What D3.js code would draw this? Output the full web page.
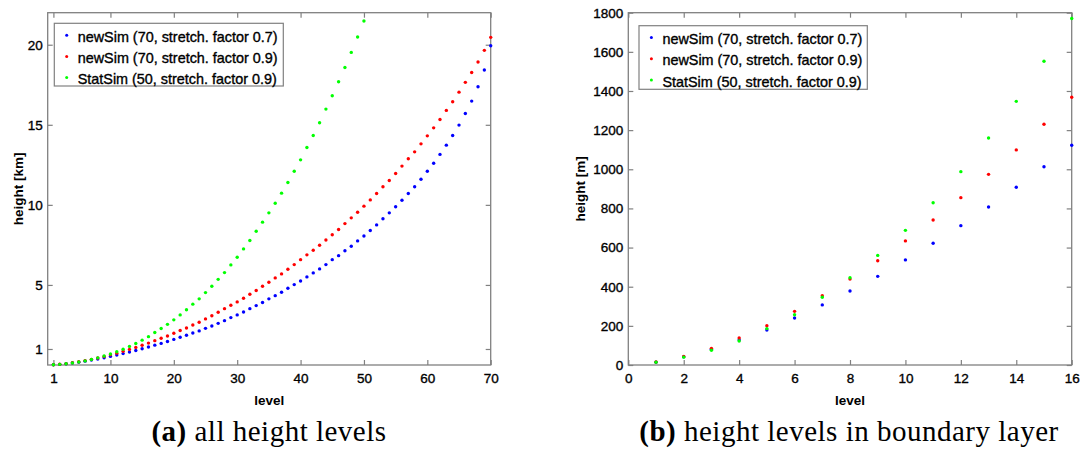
<!DOCTYPE html>
<html><head><meta charset="utf-8">
<script src="https://cdn.jsdelivr.net/npm/d3@7"></script>
<style>
body{margin:0;background:#fff;}
svg{display:block;}
</style></head>
<body>
<svg id="chart" width="1080" height="451"></svg>
<script>
// ---- data (heights in km) ----
const seriesNames = ["newSim (70, stretch. factor 0.7)", "newSim (70, stretch. factor 0.9)", "StatSim (50, stretch. factor 0.9)"];
const seriesColors = ["#0000ff", "#ff0000", "#00ff00"];
const newSim07 = [0.014,0.042,0.080,0.128,0.179,0.240,0.307,0.378,0.453,0.537,0.622,0.712,0.807,0.908,1.013,1.123,
  1.24,1.35,1.47,1.60,1.73,1.86,2.00,
  2.13,2.29,2.44,2.60,2.77,2.96,3.13,3.31,3.52,3.71,3.90,4.13,4.33,4.54,4.79,5.02,5.25,5.50,5.75,6.00,6.27,6.58,6.83,
  7.13,7.42,7.75,8.06,8.40,8.75,9.13,9.50,9.88,10.29,10.71,11.13,11.60,12.10,12.60,13.15,13.73,14.33,14.98,15.71,16.48,17.38,18.42,19.94];
const newSim09 = [0.015,0.044,0.085,0.138,0.201,0.274,0.354,0.439,0.533,0.634,0.741,0.855,0.974,1.099,1.230,1.368,
  1.52,1.67,1.81,1.98,2.15,2.31,2.50,
  2.67,2.88,3.08,3.29,3.52,3.73,3.94,4.17,4.42,4.65,4.92,5.17,5.44,5.69,5.98,6.27,6.58,6.88,7.17,7.48,7.81,8.13,8.46,
  8.83,9.19,9.54,9.92,10.31,10.71,11.13,11.52,11.96,12.42,12.88,13.31,13.81,14.31,14.81,15.33,15.90,16.44,17.04,17.65,18.27,18.92,19.65,20.46];
const statSim09 = [0.014,0.040,0.075,0.123,0.186,0.257,0.346,0.446,0.560,0.688,0.829,0.988,1.160,1.347,1.552,1.770,
  2.03,2.28,2.54,2.82,3.13,3.45,3.80,
  4.13,4.52,4.92,5.35,5.77,6.25,6.73,7.25,7.77,8.35,8.92,9.50,10.10,10.73,11.40,12.10,12.81,13.58,14.33,15.13,15.98,16.81,17.69,
  18.58,19.52,20.48,21.48];
const allSeries = [newSim07, newSim09, statSim09];

const leftXTicks = [1,10,20,30,40,50,60,70];
const leftYTicks = [1,5,10,15,20];
const rightXTicks = [0,2,4,6,8,10,12,14,16];
const rightYTicks = [0,200,400,600,800,1000,1200,1400,1600,1800];
const boundaryLevels = 16;

const captionA = ["(a)", " all height levels"];
const captionB = ["(b)", " height levels in boundary layer"];

// ---- drawing ----
const svg = d3.select("#chart");
const AX = "#808080";
const FONT = "Liberation Sans, Arial, Helvetica, sans-serif";

function heavy(sel){ return sel.attr("stroke","#000").attr("stroke-width",0.35); }

function panel(opt){
  const g = svg.append("g");
  const x = opt.x, y = opt.y;
  const [x0,x1] = x.range(), [y0,y1] = y.range();
  const mk = (axis, tr, labels) => {
    const a = g.append("g").attr("transform", tr).call(axis);
    a.select(".domain").remove();
    a.selectAll(".tick line").attr("stroke", AX).attr("stroke-width",1.2);
    a.selectAll("text").attr("fill","#000").style("font-family",FONT).style("font-size","13.5px");
    heavy(a.selectAll("text"));
    if(!labels) a.selectAll("text").remove();
    return a;
  };
  mk(d3.axisBottom(x).tickValues(opt.xt).tickSize(-5).tickPadding(8).tickFormat(d3.format("d")), `translate(0,${y0})`, true);
  mk(d3.axisTop(x).tickValues(opt.xt).tickSize(-5), `translate(0,${y1})`, false);
  mk(d3.axisLeft(y).tickValues(opt.yt).tickSize(-5).tickPadding(5).tickFormat(d3.format("d")), `translate(${x0},0)`, true);
  mk(d3.axisRight(y).tickValues(opt.yt).tickSize(-5), `translate(${x1},0)`, false);
  g.append("rect").attr("x",x0).attr("y",y1).attr("width",x1-x0).attr("height",y0-y1)
    .attr("fill","none").attr("stroke",AX).attr("stroke-width",1.3);
  allSeries.forEach((s,i)=>{
    const data = s.slice(0, opt.n ? Math.min(opt.n, s.length) : s.length);
    g.append("g").selectAll("circle").data(data).join("circle")
      .attr("cx",(d,j)=>x(j+1)).attr("cy",d=>y(d*opt.scale))
      .attr("r",1.7).attr("fill",seriesColors[i]);
  });
  g.append("text").attr("x",(x0+x1)/2).attr("y",405).attr("text-anchor","middle")
    .style("font-family",FONT).style("font-size","13.5px").style("font-weight","bold").text("level");
  g.append("text").attr("transform",`translate(${opt.ylx},${(y0+y1)/2}) rotate(-90)`).attr("text-anchor","middle")
    .attr("dy","0.35em")
    .style("font-family",FONT).style("font-size","13.5px").style("font-weight","bold").text(opt.ylabel);
  const L = opt.legend;
  g.append("rect").attr("x",L.x).attr("y",L.y).attr("width",L.w).attr("height",L.h)
    .attr("fill","#fff").attr("stroke",AX).attr("stroke-width",1.2);
  seriesNames.forEach((nm,i)=>{
    const cy = L.y + 13.4 + i*21.2;
    g.append("circle").attr("cx",L.x+12.4).attr("cy",cy-1.5).attr("r",1.5).attr("fill",seriesColors[i]);
    heavy(g.append("text").attr("x",L.x+23.4).attr("y",cy).attr("dy","0.35em")
      .style("font-family",FONT).style("font-size","14.4px").text(nm));
  });
  const c = g.append("text").attr("x",opt.capx).attr("y",441).attr("text-anchor","middle")
    .style("font-family","Liberation Serif, Times New Roman, serif").style("font-size","29px")
    .style("letter-spacing","0.5px");
  c.append("tspan").style("font-weight","bold").text(opt.caption[0]);
  c.append("tspan").text(opt.caption[1]);
}

panel({
  x: d3.scaleLinear().domain([0.1,70]).range([47.7,490.7]),
  y: d3.scaleLinear().domain([0,22]).range([365,12.7]),
  xt: leftXTicks, yt: leftYTicks, scale: 1, n: null,
  ylabel: "height [km]", ylx: 18,
  legend: {x:54.3, y:23.3, w:229, h:62.7},
  caption: captionA, capx: 269
});
panel({
  x: d3.scaleLinear().domain([0,16]).range([628.3,1071.7]),
  y: d3.scaleLinear().domain([0,1800]).range([365,12.7]),
  xt: rightXTicks, yt: rightYTicks, scale: 1000, n: boundaryLevels,
  ylabel: "height [m]", ylx: 580,
  legend: {x:639, y:25.7, w:228.3, h:63.6},
  caption: captionB, capx: 849
});
</script>
</body></html>
